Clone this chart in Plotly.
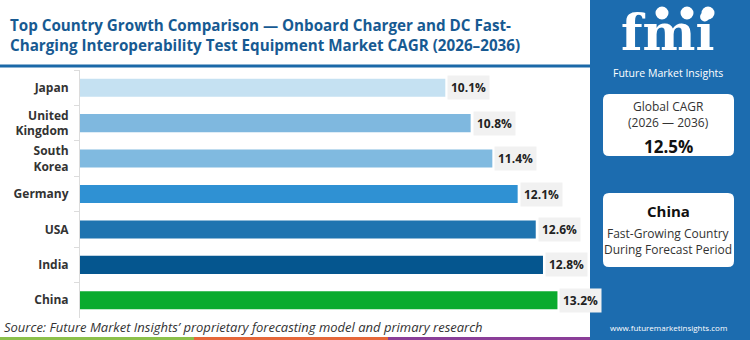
import plotly.graph_objects as go

# ---- data ----
countries = ["Japan", "United<br>Kingdom", "South<br>Korea", "Germany", "USA", "India", "China"]
cagr = [10.1, 10.8, 11.4, 12.1, 12.6, 12.8, 13.2]
bar_colors = ["#c5e1f2", "#7fb8df", "#80bae0", "#2f91d3", "#1f74b0", "#05568f", "#0aab2e"]
value_labels = ["10.1%", "10.8%", "11.4%", "12.1%", "12.6%", "12.8%", "13.2%"]
title_text = ("Top Country Growth Comparison \u2014 Onboard Charger and DC Fast-<br>"
              "Charging Interoperability Test Equipment Market CAGR (2026\u20132036)")
source_text = "Source: Future Market Insights\u2019 proprietary forecasting model and primary research"
global_cagr = "12.5%"
cagr_period = "(2026 \u2014 2036)"
fast_country = "China"

W, H = 750, 340
L, R, T, B = 80, 160, 70, 22
PW, PH = W - L - R, H - T - B


def px(x):
    return (x - L) / PW


def py(y):
    return (H - B - y) / PH


PANEL = "#1c6caf"
FONT = "Open Sans"

fig = go.Figure()
fig.add_trace(go.Bar(
    x=cagr, y=countries, orientation="h",
    marker=dict(color=bar_colors, line=dict(width=0)),
    hoverinfo="skip",
))

annotations = []
for c, v, lab in zip(countries, cagr, value_labels):
    annotations.append(dict(
        x=v, y=c, xref="x", yref="y", text="<b>" + lab + "</b>", showarrow=False,
        xanchor="left", xshift=2, bgcolor="#f1f1f1", borderpad=3,
        font=dict(family=FONT, size=12, color="#222222"),
    ))


def txt(x, y, text, size, color, bold=False, italic=False, anchor="center",
        vanchor="middle", family=FONT):
    t = text
    if bold:
        t = "<b>" + t + "</b>"
    if italic:
        t = "<i>" + t + "</i>"
    annotations.append(dict(
        x=px(x), y=py(y), xref="paper", yref="paper", text=t, showarrow=False,
        xanchor=anchor, yanchor=vanchor, font=dict(family=family, size=size, color=color),
    ))


# title
annotations.append(dict(
    x=px(8), y=py(35), xref="paper", yref="paper", text="<b>" + title_text + "</b>",
    showarrow=False, xanchor="left", yanchor="middle", align="left",
    font=dict(family=FONT, size=15.2, color="#175a92"),
))
# source
txt(2, 327, source_text, 13, "#333333", italic=True, anchor="left")

shapes = []


def rect(x0, y0, x1, y1, color, layer="above"):
    shapes.append(dict(type="rect", xref="paper", yref="paper",
                       x0=px(x0), x1=px(x1), y0=py(y1), y1=py(y0),
                       fillcolor=color, line=dict(width=0), layer=layer))


def rrect(x0, y0, x1, y1, r, color):
    # rounded rectangle in paper units
    rx = r / PW
    ry = r / PH
    a0, a1 = px(x0), px(x1)
    b0, b1 = py(y1), py(y0)
    p = (f"M {a0+rx},{b0} L {a1-rx},{b0} Q {a1},{b0} {a1},{b0+ry} "
         f"L {a1},{b1-ry} Q {a1},{b1} {a1-rx},{b1} L {a0+rx},{b1} "
         f"Q {a0},{b1} {a0},{b1-ry} L {a0},{b0+ry} Q {a0},{b0} {a0+rx},{b0} Z")
    shapes.append(dict(type="path", xref="paper", yref="paper", path=p,
                       fillcolor=color, line=dict(width=0), layer="above"))


# right panel
rect(590, 0, 750, 340, PANEL)
# title underline
rect(0, 64.5, 590, 67.5, "#1b69a8")
# bottom stripes
rect(0, 337, 194, 340, "#8cc04b")
rect(194, 337, 388, 340, "#e5673a")
rect(388, 337, 590, 340, "#8a3e98")

# logo
annotations.append(dict(
    x=px(667), y=py(0.5), xref="paper", yref="paper", text="<b>fmi</b>", showarrow=False,
    xanchor="center", yanchor="top",
    font=dict(family="DejaVu Serif", size=50, color="white"),
))
for yy in range(17, 56, 4):
    rect(606, yy, 730, yy + 1.2, PANEL)
for cx in (662, 687, 708):
    shapes.append(dict(type="circle", xref="paper", yref="paper",
                       x0=px(cx - 6.5), x1=px(cx + 6.5), y0=py(19.5), y1=py(6.5),
                       fillcolor="white", line=dict(width=0), layer="above"))
txt(668, 64, "Future Market Insights", 10.5, "white", vanchor="top")

# info boxes
rrect(603, 94, 734, 156, 6, "white")
txt(668, 117, "Global CAGR", 12, "#333333", vanchor="bottom")
txt(668, 133, cagr_period, 12, "#333333", vanchor="bottom")
txt(668, 133, global_cagr, 17, "#111111", bold=True, vanchor="top")

rrect(603, 193, 734, 267, 6, "white")
txt(668, 211, fast_country, 15, "#111111", bold=True)
txt(668, 233, "Fast-Growing Country", 12, "#333333")
txt(668, 249, "During Forecast Period", 12, "#333333")

txt(668, 327, "www.futuremarketinsights.com", 8, "white")

fig.update_layout(
    width=W, height=H,
    margin=dict(l=L, r=R, t=T, b=B, pad=0),
    paper_bgcolor="white", plot_bgcolor="white",
    showlegend=False, bargap=0.49,
    annotations=annotations, shapes=shapes,
    xaxis=dict(range=[0, 14.1], visible=False, fixedrange=True),
    yaxis=dict(
        autorange="reversed", showgrid=False, zeroline=False,
        showline=True, linecolor="#dcdcdc", linewidth=1,
        ticks="outside", tickson="boundaries", ticklen=5, tickcolor="#dcdcdc",
        tickfont=dict(family=FONT, size=12, color="#333333", weight="bold"),
        ticklabelstandoff=8, fixedrange=True,
    ),
)

fig.write_html("out.html")
